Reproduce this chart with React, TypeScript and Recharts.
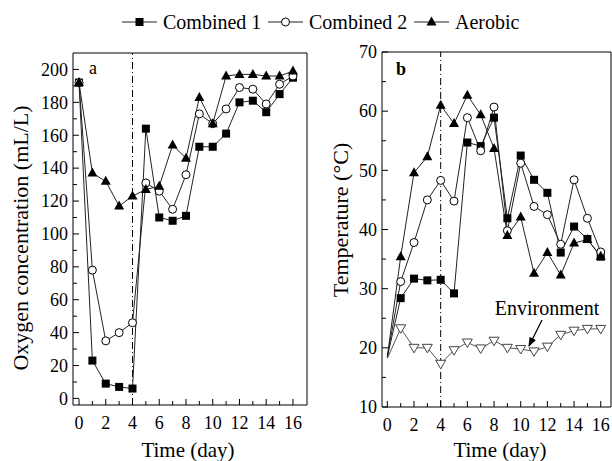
import { Line, LineChart, ReferenceLine, XAxis, YAxis } from "recharts";

const FONT = '"Liberation Serif", "Times New Roman", serif';
const INK = "#000";
const LINE = "#222";

const days = [0, 1, 2, 3, 4, 5, 6, 7, 8, 9, 10, 11, 12, 13, 14, 15, 16];
const dayTicks = [0, 1, 2, 3, 4, 5, 6, 7, 8, 9, 10, 11, 12, 13, 14, 15, 16];
const oxygenTicks = [0, 10, 20, 30, 40, 50, 60, 70, 80, 90, 100, 110, 120, 130, 140, 150, 160, 170, 180, 190, 200];
const tempTicks = [10, 15, 20, 25, 30, 35, 40, 45, 50, 55, 60, 65, 70];

// panel a: oxygen concentration (mL/L)
const oxyCombined1 = [192, 23, 9, 7, 6, 164, 110, 108, 111, 153, 153, 161, 180, 181, 174, 185, 195];
const oxyCombined2 = [192, 78, 35, 40, 46, 131, 126, 115, 136, 173, 167, 176, 189, 188, 179, 191, 196];
const oxyAerobic = [192, 137, 132, 117, 123, 127, 129, 154, 146, 183, 167, 196, 197, 197, 196, 196, 199];

// panel b: temperature (°C)
const tempCombined1 = [18.5, 28.4, 31.7, 31.4, 31.5, 29.2, 54.7, 54.1, 58.9, 41.9, 52.5, 48.4, 46.2, 36.1, 40.5, 38.4, 35.4];
const tempCombined2 = [18.5, 31.2, 37.8, 45, 48.3, 44.8, 58.9, 53.3, 60.7, 39.8, 51.2, 43.9, 42.5, 37.5, 48.4, 41.9, 36.2];
const tempAerobic = [18.5, 35.4, 49.6, 52.3, 61, 57.9, 62.7, 59.4, 53.7, 39, 42.1, 32.6, 36.1, 32.3, 37.7, 38.3, 35.5];
const tempEnvironment = [18.2, 23.3, 20, 20, 17.3, 19.6, 20.9, 19.9, 21.2, 20, 19.8, 19.4, 20.2, 22.2, 22.9, 23.2, 23.2];

const oxygenData = days.map((day, i) => ({
  day,
  c1: oxyCombined1[i],
  c2: oxyCombined2[i],
  aer: oxyAerobic[i],
}));

const tempData = days.map((day, i) => ({
  day,
  c1: tempCombined1[i],
  c2: tempCombined2[i],
  aer: tempAerobic[i],
  env: tempEnvironment[i],
}));

const squareDot = (p: any) => (
  <rect key={p.key} x={p.cx - 4} y={p.cy - 4} width={8} height={8} fill={INK} />
);
const circleDot = (p: any) => (
  <circle key={p.key} cx={p.cx} cy={p.cy} r={4} fill="#fff" stroke={INK} strokeWidth={1} />
);
const triangleDot = (p: any) => (
  <polygon
    key={p.key}
    points={`${p.cx},${p.cy - 5.5} ${p.cx - 5},${p.cy + 3.5} ${p.cx + 5},${p.cy + 3.5}`}
    fill={INK}
  />
);
const downTriangleDot = (p: any) => (
  <polygon
    key={p.key}
    points={`${p.cx - 5},${p.cy - 3.5} ${p.cx + 5},${p.cy - 3.5} ${p.cx},${p.cy + 5}`}
    fill="#fff"
    stroke="#444"
    strokeWidth={1}
  />
);

// the temperature curves all start from the same day-0 reading, drawn without a marker
const skipFirst = (shape: (p: any) => any) => (p: any) =>
  p.index === 0 ? <g key={p.key} /> : shape(p);

function DayTick(props: any) {
  const { x, y, payload } = props;
  const major = payload.value % 2 === 0;
  return (
    <g>
      <line x1={x} x2={x} y1={y} y2={y - (major ? 6 : 4)} stroke={INK} />
      {major && (
        <text x={x} y={y + 24} textAnchor="middle" fontSize={18} fontFamily={FONT} fill={INK}>
          {payload.value}
        </text>
      )}
    </g>
  );
}

function ValueTick(props: any) {
  const { x, y, payload, step } = props;
  const major = payload.value % step === 0;
  return (
    <g>
      <line x1={x} x2={x + (major ? 6 : 4)} y1={y} y2={y} stroke={INK} />
      {major && (
        <text x={x - 5} y={y} dy="0.35em" textAnchor="end" fontSize={18} fontFamily={FONT} fill={INK}>
          {payload.value}
        </text>
      )}
    </g>
  );
}

const OXY_X: [number, number] = [-0.45, 17.05];
const OXY_Y: [number, number] = [-4, 210];
const TEMP_X: [number, number] = [-0.4, 16.77];
const TEMP_Y: [number, number] = [10, 70];

function OxygenPanel() {
  return (
    <LineChart width={310} height={461} data={oxygenData} margin={{ top: 53, right: 3, left: 13, bottom: 26 }}>
      <XAxis
        dataKey="day"
        type="number"
        domain={OXY_X}
        ticks={dayTicks}
        interval={0}
        allowDataOverflow
        height={30}
        tickSize={0}
        tickMargin={0}
        tickLine={false}
        axisLine={{ stroke: INK }}
        tick={(p: any) => <DayTick {...p} />}
      />
      <YAxis
        type="number"
        domain={OXY_Y}
        ticks={oxygenTicks}
        interval={0}
        allowDataOverflow
        width={60}
        tickSize={0}
        tickMargin={0}
        tickLine={false}
        axisLine={{ stroke: INK }}
        tick={(p: any) => <ValueTick {...p} step={20} />}
      />
      <ReferenceLine y={OXY_Y[1]} stroke={INK} ifOverflow="visible" />
      <ReferenceLine x={OXY_X[1]} stroke={INK} ifOverflow="visible" />
      <ReferenceLine x={4} stroke={INK} strokeDasharray="7 3 1 3" />
      <Line type="linear" dataKey="c1" stroke={LINE} strokeWidth={1} dot={squareDot} isAnimationActive={false} />
      <Line type="linear" dataKey="c2" stroke={LINE} strokeWidth={1} dot={circleDot} isAnimationActive={false} />
      <Line type="linear" dataKey="aer" stroke={LINE} strokeWidth={1} dot={triangleDot} isAnimationActive={false} />
    </LineChart>
  );
}

function TemperaturePanel() {
  return (
    <LineChart width={302} height={461} data={tempData} margin={{ top: 52, right: 1, left: 12, bottom: 24 }}>
      <XAxis
        dataKey="day"
        type="number"
        domain={TEMP_X}
        ticks={dayTicks}
        interval={0}
        allowDataOverflow
        height={30}
        tickSize={0}
        tickMargin={0}
        tickLine={false}
        axisLine={{ stroke: INK }}
        tick={(p: any) => <DayTick {...p} />}
      />
      <YAxis
        type="number"
        domain={TEMP_Y}
        ticks={tempTicks}
        interval={0}
        allowDataOverflow
        width={60}
        tickSize={0}
        tickMargin={0}
        tickLine={false}
        axisLine={{ stroke: INK }}
        tick={(p: any) => <ValueTick {...p} step={10} />}
      />
      <ReferenceLine y={TEMP_Y[1]} stroke={INK} ifOverflow="visible" />
      <ReferenceLine x={TEMP_X[1]} stroke={INK} ifOverflow="visible" />
      <ReferenceLine x={4} stroke={INK} strokeDasharray="7 3 1 3" />
      <Line type="linear" dataKey="env" stroke="#555" strokeWidth={1} dot={skipFirst(downTriangleDot)} isAnimationActive={false} />
      <Line type="linear" dataKey="c1" stroke={LINE} strokeWidth={1} dot={skipFirst(squareDot)} isAnimationActive={false} />
      <Line type="linear" dataKey="c2" stroke={LINE} strokeWidth={1} dot={skipFirst(circleDot)} isAnimationActive={false} />
      <Line type="linear" dataKey="aer" stroke={LINE} strokeWidth={1} dot={skipFirst(triangleDot)} isAnimationActive={false} />
    </LineChart>
  );
}

const legendItems = [
  { label: "Combined 1", x: 122, dot: squareDot },
  { label: "Combined 2", x: 268, dot: circleDot },
  { label: "Aerobic", x: 414, dot: triangleDot },
];

function Overlay() {
  return (
    <svg
      width={612}
      height={461}
      style={{ position: "absolute", left: 0, top: 0, pointerEvents: "none" }}
      fontFamily={FONT}
      fill={INK}
    >
      <defs>
        <marker id="arrowHead" markerWidth="8" markerHeight="6" refX="7" refY="3" orient="auto">
          <polygon points="0,0 8,3 0,6" fill={INK} />
        </marker>
      </defs>
      {legendItems.map((item) => (
        <g key={item.label}>
          <line x1={item.x} x2={item.x + 35} y1={22} y2={22} stroke={LINE} strokeWidth={1} />
          {item.dot({ cx: item.x + 17.5, cy: 22, key: item.label })}
          <text x={item.x + 41} y={29} fontSize={20}>
            {item.label}
          </text>
        </g>
      ))}
      <text x={89} y={74} fontSize={18}>a</text>
      <text x={396} y={75} fontSize={18} fontWeight="bold">b</text>
      <text transform="translate(28 238) rotate(-90)" textAnchor="middle" fontSize={22}>
        Oxygen concentration (mL/L)
      </text>
      <text transform="translate(348 220) rotate(-90)" textAnchor="middle" fontSize={22}>
        Temperature (°C)
      </text>
      <text x={188} y={457} textAnchor="middle" fontSize={21}>Time (day)</text>
      <text x={500} y={457} textAnchor="middle" fontSize={21}>Time (day)</text>
      <text x={547} y={315} textAnchor="middle" fontSize={20}>Environment</text>
      <line x1={542} y1={320} x2={529} y2={346} stroke={INK} strokeWidth={1.2} markerEnd="url(#arrowHead)" />
    </svg>
  );
}

export default function App() {
  return (
    <div style={{ position: "absolute", left: 0, top: 0, width: 612, height: 461, background: "#fff" }}>
      <div style={{ position: "absolute", left: 0, top: 0 }}>
        <OxygenPanel />
      </div>
      <div style={{ position: "absolute", left: 310, top: 0 }}>
        <TemperaturePanel />
      </div>
      <Overlay />
    </div>
  );
}
